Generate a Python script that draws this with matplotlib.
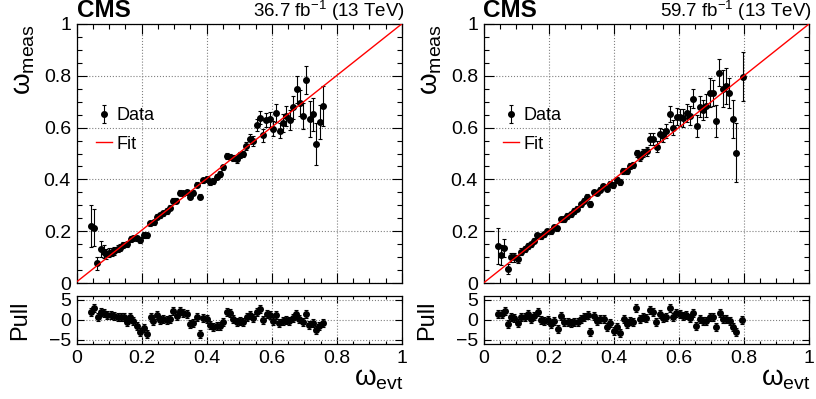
import numpy as np
import matplotlib.pyplot as plt
from matplotlib.ticker import MultipleLocator

plt.rcParams['font.family'] = ['Liberation Sans', 'DejaVu Sans']
plt.rcParams['mathtext.fontset'] = 'custom'
plt.rcParams['mathtext.rm'] = 'Liberation Sans'
plt.rcParams['mathtext.it'] = 'Liberation Sans'
plt.rcParams['mathtext.default'] = 'regular'

# ---- data ----
tick_vals = [0, 0.2, 0.4, 0.6, 0.8, 1.0]
tick_labels = ['0', '0.2', '0.4', '0.6', '0.8', '1']

# 2016 (left)
x16 = [0.046, 0.054, 0.063, 0.074, 0.084, 0.092, 0.100, 0.108, 0.116, 0.126,
       0.134, 0.144, 0.155, 0.167, 0.175, 0.185, 0.196, 0.208, 0.216, 0.227,
       0.237, 0.247, 0.257, 0.267, 0.277, 0.287, 0.298, 0.307, 0.318, 0.328,
       0.338, 0.349, 0.359, 0.369, 0.379, 0.390, 0.400, 0.410, 0.420, 0.431,
       0.441, 0.451, 0.461, 0.472, 0.482, 0.492, 0.502, 0.512, 0.522, 0.532,
       0.542, 0.553, 0.563, 0.573, 0.583, 0.593, 0.604, 0.614, 0.624, 0.635,
       0.645, 0.655, 0.665, 0.676, 0.686, 0.696, 0.706, 0.716, 0.727, 0.737,
       0.747, 0.757]
y16 = [0.220, 0.214, 0.076, 0.131, 0.121, 0.112, 0.117, 0.121, 0.125, 0.132,
       0.137, 0.147, 0.149, 0.170, 0.172, 0.172, 0.166, 0.185, 0.184, 0.230,
       0.234, 0.256, 0.261, 0.269, 0.278, 0.291, 0.318, 0.318, 0.349, 0.346,
       0.350, 0.333, 0.349, 0.379, 0.333, 0.396, 0.402, 0.391, 0.394, 0.411,
       0.421, 0.446, 0.491, 0.488, 0.483, 0.477, 0.494, 0.499, 0.530, 0.556,
       0.548, 0.610, 0.638, 0.571, 0.629, 0.632, 0.596, 0.657, 0.588, 0.619,
       0.645, 0.629, 0.678, 0.748, 0.694, 0.645, 0.784, 0.632, 0.651, 0.537,
       0.622, 0.683]
e16 = [0.080, 0.070, 0.025, 0.030, 0.025, 0.020, 0.018, 0.016, 0.015, 0.013,
       0.012, 0.011, 0.010, 0.010, 0.010, 0.010, 0.010, 0.010, 0.010, 0.010,
       0.010, 0.010, 0.010, 0.010, 0.010, 0.010, 0.010, 0.010, 0.010, 0.010,
       0.010, 0.010, 0.010, 0.010, 0.010, 0.011, 0.011, 0.011, 0.011, 0.011,
       0.011, 0.011, 0.011, 0.011, 0.012, 0.012, 0.012, 0.012, 0.015, 0.020,
       0.020, 0.024, 0.025, 0.025, 0.028, 0.030, 0.030, 0.035, 0.030, 0.035,
       0.040, 0.040, 0.045, 0.053, 0.050, 0.050, 0.053, 0.070, 0.065, 0.080,
       0.065, 0.076]
px16 = [0.045, 0.055, 0.065, 0.074, 0.084, 0.095, 0.105, 0.115, 0.126, 0.136,
        0.146, 0.154, 0.164, 0.175, 0.185, 0.195, 0.206, 0.216, 0.228, 0.236,
        0.246, 0.256, 0.267, 0.277, 0.287, 0.298, 0.308, 0.318, 0.328, 0.338,
        0.349, 0.359, 0.369, 0.379, 0.390, 0.400, 0.410, 0.420, 0.431, 0.441,
        0.451, 0.461, 0.471, 0.482, 0.492, 0.502, 0.513, 0.523, 0.533, 0.543,
        0.554, 0.564, 0.574, 0.584, 0.595, 0.605, 0.613, 0.623, 0.633, 0.644,
        0.654, 0.664, 0.674, 0.685, 0.695, 0.705, 0.715, 0.726, 0.736, 0.746,
        0.756]
pull16 = [2.1, 3.1, 0.7, 2.0, 1.7, 1.3, 1.2, 1.0, 0.8, 0.75,
          0.7, -0.4, 0.7, -0.2, -1.4, -3.1, -2.1, -3.5, 0.7, -0.2,
          1.3, 0.0, 0.2, 0.0, 0.3, 2.25, 1.1, 2.2, 1.8, 1.4,
          -1.0, -0.8, 0.8, -3.6, 0.4, 0.3, -1.25, -1.8, -1.4, -1.4,
          -0.4, 2.1, 1.7, 0.2, -0.6, -0.2, -0.5, 0.7, 1.25, 0.5,
          2.1, 2.7, 0.0, 1.5, 1.2, -0.2, 1.25, -0.7, -0.25, 0.0,
          -0.3, 0.4, 1.5, 0.3, -0.6, 1.5, -1.2, -0.8, -2.4, -1.4,
          -0.8]
fit16 = (0.004, 0.997)

# 2018 (right)
x18 = [0.045, 0.054, 0.064, 0.075, 0.085, 0.095, 0.105, 0.115, 0.126, 0.136,
       0.146, 0.156, 0.165, 0.176, 0.186, 0.196, 0.206, 0.217, 0.227, 0.237,
       0.247, 0.258, 0.268, 0.278, 0.288, 0.299, 0.309, 0.319, 0.327, 0.338,
       0.348, 0.358, 0.368, 0.378, 0.389, 0.399, 0.409, 0.419, 0.430, 0.440,
       0.450, 0.460, 0.471, 0.481, 0.491, 0.501, 0.511, 0.522, 0.532, 0.542,
       0.552, 0.562, 0.573, 0.583, 0.593, 0.603, 0.614, 0.624, 0.634, 0.644,
       0.655, 0.665, 0.675, 0.685, 0.696, 0.706, 0.714, 0.724, 0.735, 0.745,
       0.755, 0.765, 0.775, 0.798]
y18 = [0.143, 0.108, 0.134, 0.054, 0.099, 0.099, 0.094, 0.121, 0.131, 0.144,
       0.149, 0.163, 0.184, 0.181, 0.188, 0.199, 0.200, 0.215, 0.211, 0.246,
       0.247, 0.259, 0.265, 0.278, 0.287, 0.304, 0.317, 0.333, 0.305, 0.350,
       0.349, 0.361, 0.373, 0.364, 0.382, 0.378, 0.397, 0.391, 0.433, 0.433,
       0.453, 0.456, 0.501, 0.485, 0.501, 0.508, 0.555, 0.557, 0.526, 0.575,
       0.568, 0.587, 0.653, 0.600, 0.642, 0.640, 0.637, 0.658, 0.646, 0.712,
       0.607, 0.681, 0.668, 0.685, 0.735, 0.735, 0.625, 0.812, 0.750, 0.761,
       0.732, 0.634, 0.503, 0.797]
e18 = [0.068, 0.037, 0.035, 0.020, 0.018, 0.016, 0.015, 0.013, 0.012, 0.011,
       0.010, 0.010, 0.010, 0.010, 0.010, 0.010, 0.010, 0.010, 0.010, 0.010,
       0.010, 0.010, 0.010, 0.010, 0.010, 0.010, 0.010, 0.010, 0.010, 0.010,
       0.010, 0.010, 0.010, 0.010, 0.011, 0.011, 0.011, 0.011, 0.011, 0.011,
       0.012, 0.012, 0.013, 0.014, 0.015, 0.016, 0.023, 0.023, 0.022, 0.025,
       0.025, 0.027, 0.030, 0.030, 0.032, 0.033, 0.034, 0.035, 0.036, 0.037,
       0.042, 0.042, 0.040, 0.045, 0.057, 0.050, 0.062, 0.053, 0.072, 0.070,
       0.058, 0.074, 0.113, 0.095]
px18 = [0.046, 0.056, 0.066, 0.074, 0.085, 0.095, 0.105, 0.115, 0.126, 0.136,
        0.146, 0.156, 0.166, 0.177, 0.187, 0.197, 0.207, 0.218, 0.228, 0.238,
        0.248, 0.259, 0.269, 0.279, 0.289, 0.300, 0.310, 0.320, 0.328, 0.338,
        0.349, 0.359, 0.369, 0.379, 0.390, 0.400, 0.410, 0.420, 0.431, 0.441,
        0.451, 0.459, 0.469, 0.480, 0.490, 0.500, 0.510, 0.521, 0.531, 0.541,
        0.551, 0.562, 0.572, 0.582, 0.592, 0.603, 0.613, 0.623, 0.633, 0.644,
        0.654, 0.664, 0.674, 0.685, 0.695, 0.705, 0.715, 0.726, 0.736, 0.746,
        0.756, 0.766, 0.777, 0.795]
pull18 = [1.5, 1.5, 2.3, -1.1, 0.8, 0.4, -0.8, 0.7, 0.8, 1.5,
          0.2, 1.0, 2.0, 0.0, -0.25, 0.0, -1.1, -0.2, -2.25, 1.0,
          -0.6, -0.6, -0.75, -0.5, -0.6, 0.3, 0.7, 1.3, -2.9, 1.0,
          -0.25, 0.2, 0.2, -1.7, -0.8, -2.7, -1.7, -3.3, 0.25, -1.1,
          -0.2, -0.6, 2.9, 0.2, 0.8, 0.6, 2.5, 1.9, -0.4, 1.5,
          0.6, 0.8, 3.1, 0.7, 1.8, 1.4, 1.0, 1.25, 0.4, 1.8,
          -1.5, 0.2, -0.25, -0.2, 0.7, 0.7, -1.7, 1.7, 0.25, 0.25,
          -0.25, -1.8, -2.9, 0.0]
fit18 = (0.0, 1.0)

panels = [
    dict(x=x16, y=y16, e=e16, px=px16, pull=pull16, fit=fit16,
         lumi='36.7 fb$^{-1}$ (13 TeV)', left=76.5),
    dict(x=x18, y=y18, e=e18, px=px18, pull=pull18, fit=fit18,
         lumi='59.7 fb$^{-1}$ (13 TeV)', left=483.5),
]

W, H = 816, 399
fig = plt.figure(figsize=(W / 100, H / 100), dpi=100)


def style_axes(ax, major_len, minor_len):
    ax.xaxis.set_minor_locator(MultipleLocator(0.05))
    ax.tick_params(which='both', direction='in', top=True, right=True,
                   width=0.8, labelsize=14, pad=4)
    ax.tick_params(which='major', length=major_len)
    ax.tick_params(which='minor', length=minor_len)
    ax.grid(True, which='major', linestyle=':', color='#808080', lw=0.8)
    ax.set_axisbelow(True)
    for s in ax.spines.values():
        s.set_linewidth(0.9)


for p in panels:
    axw = 325.5 / W
    ax_m = fig.add_axes([p['left'] / W, 1 - 283 / H, axw, 259 / H])
    ax_p = fig.add_axes([p['left'] / W, 1 - 344 / H, axw, 48 / H])

    # main panel
    h_data = ax_m.errorbar(p['x'], p['y'], yerr=p['e'], fmt='o', color='black',
                           ms=4, elinewidth=0.8, capsize=1.5, capthick=0.8,
                           zorder=3)
    fx = np.array([0.0, 1.0])
    h_fit, = ax_m.plot(fx, p['fit'][0] + p['fit'][1] * fx, color='red', lw=1.0,
                       zorder=4)
    ax_m.set_xlim(0, 1)
    ax_m.set_ylim(0, 1)
    ax_m.set_xticks(tick_vals)
    ax_m.set_yticks(tick_vals)
    ax_m.set_yticklabels(tick_labels)
    ax_m.yaxis.set_minor_locator(MultipleLocator(0.05))
    style_axes(ax_m, 7, 3.5)
    ax_m.tick_params(labelbottom=False)
    ax_m.set_ylabel(r'$\omega_{meas}$', loc='top', fontsize=20)
    ax_m.yaxis.set_label_coords(-0.12, 1.0)

    ax_m.legend([h_data, h_fit], ['Data', 'Fit'], loc='upper left',
                bbox_to_anchor=(0.06, 0.68), frameon=False,
                fontsize=13, handlelength=0.9, handletextpad=0.25,
                labelspacing=0.65, borderpad=0, borderaxespad=0)

    ax_m.text(0.0, 1.027, 'CMS', transform=ax_m.transAxes, fontsize=17.5,
              fontweight='bold', ha='left', va='baseline')
    ax_m.text(1.009, 1.027, p['lumi'], transform=ax_m.transAxes, fontsize=13.5,
              ha='right', va='baseline')

    # pull panel
    ax_p.errorbar(p['px'], p['pull'], yerr=1.0, fmt='o', color='black', ms=4,
                  elinewidth=0.8, capsize=1.5, capthick=0.8, zorder=3)
    ax_p.set_xlim(0, 1)
    ax_p.set_ylim(-6, 6)
    ax_p.set_xticks(tick_vals)
    ax_p.set_xticklabels(tick_labels)
    ax_p.set_yticks([-5, 0, 5])
    style_axes(ax_p, 5, 2.5)
    ax_p.set_ylabel('Pull', fontsize=17)
    ax_p.yaxis.set_label_coords(-0.14, 0.5)
    ax_p.set_xlabel(r'$\omega_{evt}$', loc='right', fontsize=20)
    ax_p.xaxis.label.set_va('baseline')
    ax_p.xaxis.set_label_coords(1.006, -0.87)

fig.savefig('out.png', dpi=100)
